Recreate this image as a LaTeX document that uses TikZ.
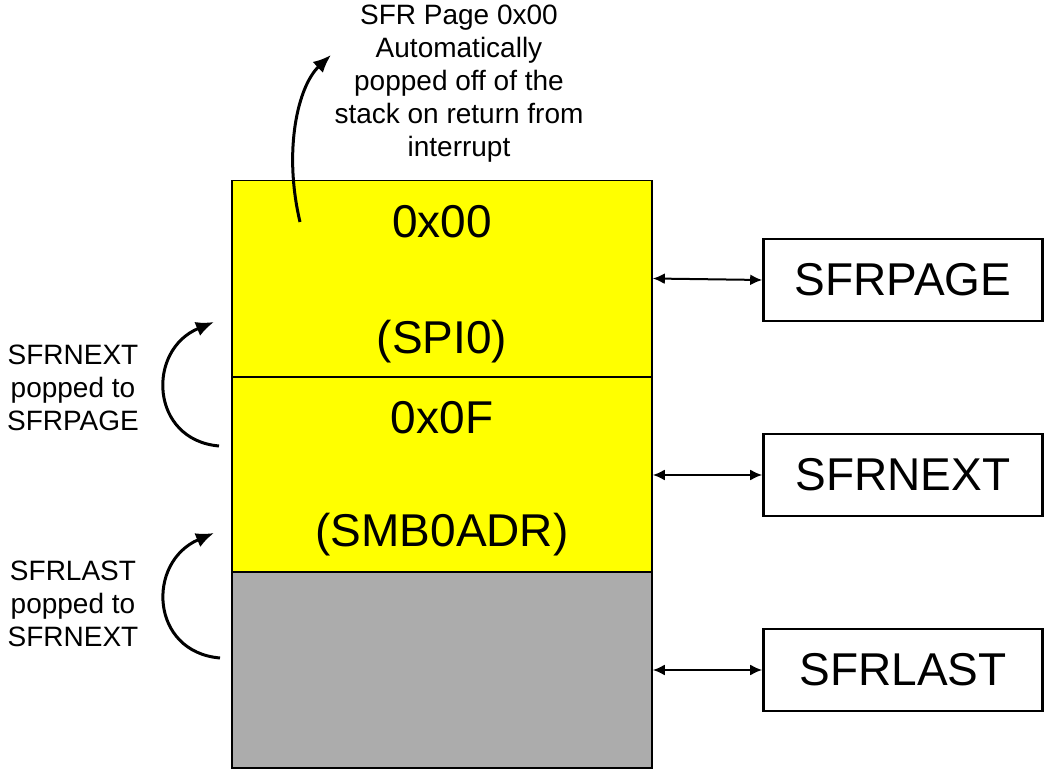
\documentclass[tikz,border=0pt]{standalone}
\usepackage{fontspec}
\setmainfont{Liberation Sans}
\usepackage{tikz}
\usetikzlibrary{arrows, arrows.meta, positioning}

\definecolor{stackyellow}{RGB}{255,255,0}
\definecolor{stackgray}{RGB}{172,172,172}

\tikzset{
  cell/.style={draw, line width=0.8pt, minimum width=210pt, minimum height=98pt, inner sep=0pt},
  bigtext/.style={font=\fontsize{23}{27}\selectfont},
  smalltext/.style={font=\fontsize{14}{16.5}\selectfont, align=center},
  regbox/.style={draw, line width=1.3pt, minimum width=139.5pt, minimum height=41pt, inner sep=0pt, font=\fontsize{23}{27}\selectfont},
  link/.style={{Latex[length=6pt,width=5.5pt]}-{Latex[length=6pt,width=5.5pt]}, line width=1pt},
  popped/.style={-{Latex[length=9pt,width=7.5pt]}, line width=1.5pt}
}

\begin{document}
\begin{tikzpicture}[x=0.5pt, y=-0.5pt]
        \useasboundingbox (0,0) rectangle (1045,769);

        % Stack
        \node[cell, fill=stackyellow] (top) at (442,278.5) {};
        \node[cell, fill=stackyellow] (mid) at (442,475) {};
        \node[cell, fill=stackgray] (low) at (442,670) {};

        % Stack contents
        \node[bigtext] (pageval) at (442,222) {0x00};
        \node[bigtext] (pagename) at (442,342) {(SPI0)};
        \node[bigtext] (nextval) at (442,418) {0x0F};
        \node[bigtext] (nextname) at (442,535) {(SMB0ADR)};

        % Registers
        \node[regbox] (sfrpage) at (903,280) {SFRPAGE};
        \node[regbox] (sfrnext) at (903,475) {SFRNEXT};
        \node[regbox] (sfrlast) at (903,670) {SFRLAST};

        \draw[link] (top.east) -- (sfrpage.west);
        \draw[link] (mid.east) -- (sfrnext.west);
        \draw[link] (low.east) -- (sfrlast.west);

        % Labels
        \node[smalltext] (retlabel) at (459,84) {SFR Page 0x00\\Automatically\\popped off of the\\stack on return from\\interrupt};
        \node[smalltext] (nextlabel) at (73,388) {SFRNEXT\\popped to\\SFRPAGE};
        \node[smalltext] (lastlabel) at (73,604) {SFRLAST\\popped to\\SFRNEXT};

        % Pop arrows
        \coordinate (retfrom) at (300,222);
        \coordinate (retto) at (331,55);
        \coordinate (nextfrom) at (219,446);
        \coordinate (nextto) at (214,322);
        \coordinate (lastfrom) at (220,658);
        \coordinate (lastto) at (214,533);

        \draw[popped] (retfrom) .. controls (283,150) and (298,86) .. (retto);
        \draw[popped] (nextfrom) .. controls (150,440) and (146,350) .. (nextto);
        \draw[popped] (lastfrom) .. controls (150,652) and (146,562) .. (lastto);
      \end{tikzpicture}
\end{document}
